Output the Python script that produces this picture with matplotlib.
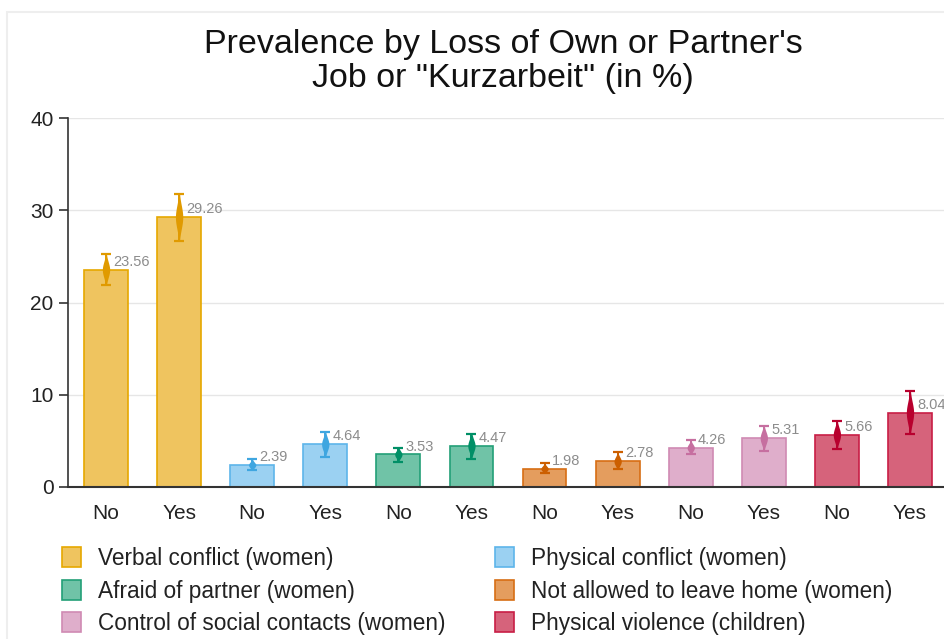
import numpy as np
import matplotlib
matplotlib.use("Agg")
import matplotlib.pyplot as plt
from matplotlib.patches import Patch, Rectangle

plt.rcParams['font.family'] = ['Liberation Sans', 'DejaVu Sans']

title_lines = ["Prevalence by Loss of Own or Partner's", "Job or \"Kurzarbeit\" (in %)"]
categories = ["Verbal conflict (women)", "Physical conflict (women)",
              "Afraid of partner (women)", "Not allowed to leave home (women)",
              "Control of social contacts (women)", "Physical violence (children)"]
groups = ["No", "Yes"]
values = [[23.56, 29.26], [2.39, 4.64], [3.53, 4.47], [1.98, 2.78], [4.26, 5.31], [5.66, 8.04]]
ci_low = [[21.9, 26.7], [1.84, 3.22], [2.74, 3.04], [1.48, 1.92], [3.58, 3.94], [4.12, 5.71]]
ci_high = [[25.3, 31.8], [3.03, 5.93], [4.26, 5.75], [2.60, 3.79], [5.10, 6.65], [7.15, 10.44]]
fill_colors = ["#EFC45F", "#9BD1F2", "#70C3A7", "#E49D5E", "#DFAECB", "#D6637B"]
edge_colors = ["#E6A800", "#5DB5EA", "#22A077", "#D76E14", "#D08AB3", "#C81E45"]
dark_colors = ["#E09A00", "#3FA6E0", "#008F66", "#CC5F00", "#C66FA0", "#B8002E"]

W, H = 945, 639
fig = plt.figure(figsize=(W / 100, H / 100), dpi=100)
fig.add_artist(Rectangle((7 / W, -0.1), 1.2, (H - 12) / H + 0.1, transform=fig.transFigure,
                         fill=False, edgecolor="#EEEEEE", linewidth=1.5))

ax = fig.add_axes([68 / W, 1 - 487 / H, (948 - 68) / W, (487 - 118) / H])

n = len(categories) * len(groups)
xs = np.arange(n)
bw = 0.6
i = 0
for c in range(len(categories)):
    for g in range(len(groups)):
        x = xs[i]
        v = values[c][g]
        lo, hi = ci_low[c][g], ci_high[c][g]
        ax.bar(x, v, width=bw, color=fill_colors[c], edgecolor=edge_colors[c],
               linewidth=1.2, zorder=2)
        ax.errorbar(x, v, yerr=[[v - lo], [hi - v]], fmt='none', ecolor=dark_colors[c],
                    elinewidth=1.4, capsize=3.8, capthick=1.6, zorder=4)
        yy = np.linspace(lo, hi, 60)
        sig = (hi - lo) / 4.0
        ww = 0.05 * np.exp(-0.5 * ((yy - v) / sig) ** 2)
        ax.fill_betweenx(yy, x - ww, x + ww, color=dark_colors[c], lw=0, zorder=5)
        ax.text(x + 0.1, v + 0.1, f"{v:.2f}", ha='left', va='bottom', color="#8C8C8C",
                fontsize=10.5, zorder=6)
        i += 1

ax.set_xlim(-0.52, n - 0.48)
ax.set_ylim(0, 40)
ax.set_yticks([0, 10, 20, 30, 40])
ax.set_xticks(xs)
ax.set_xticklabels(groups * len(categories))
ax.tick_params(axis='y', direction='out', length=6.5, width=1.2, color="#333333",
               labelsize=15, pad=4, labelcolor="#222222")
ax.tick_params(axis='x', length=0, labelsize=15, pad=12, labelcolor="#222222")
ax.grid(axis='y', color="#E6E6E6", linewidth=1, zorder=0)
ax.set_axisbelow(True)
for s in ['top', 'right']:
    ax.spines[s].set_visible(False)
ax.spines['left'].set_color("#333333")
ax.spines['left'].set_linewidth(1.2)
ax.spines['bottom'].set_color("#333333")
ax.spines['bottom'].set_linewidth(1.5)

for k, (line, ypx) in enumerate(zip(title_lines, [45, 79])):
    fig.text(503 / W, 1 - ypx / H, line, ha='center', va='center', fontsize=24.5,
             color="#111111")

handles = [Patch(facecolor=fill_colors[c], edgecolor=edge_colors[c], linewidth=1.2,
                 label=categories[c]) for c in range(len(categories))]
common = dict(frameon=False, fontsize=16.3, handlelength=0.85, handleheight=1.0,
              handletextpad=0.72, labelspacing=0.42, labelcolor="#222222",
              borderaxespad=0, borderpad=0)
leg1 = fig.legend(handles=handles[0::2], loc='upper left',
                  bbox_to_anchor=(62 / W, 1 - 547 / H), **common)
leg2 = fig.legend(handles=handles[1::2], loc='upper left',
                  bbox_to_anchor=(495 / W, 1 - 547 / H), **common)

fig.savefig("out.png", dpi=100)
